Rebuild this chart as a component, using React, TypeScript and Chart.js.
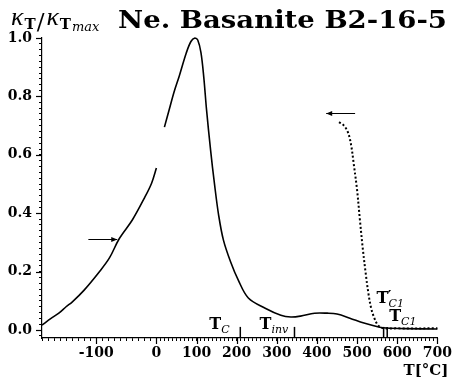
import React, { useEffect, useRef } from "react";
import { Chart, registerables } from "chart.js";

Chart.register(...registerables);

// ---------- data (T in °C, kappa normalised) ----------
const lowT = [-190, -175, -162, -150, -140, -120, -95, -78, -62, -40, -20, -8, 0];
const lowK = [0.017, 0.04, 0.058, 0.08, 0.096, 0.137, 0.199, 0.247, 0.312, 0.377, 0.452, 0.503, 0.555];

const heatT = [20, 32, 44, 57, 74, 86, 96, 103, 111, 118, 125, 135, 145, 155, 167, 185, 204, 229, 271, 310, 335, 359, 394, 426, 450, 482, 517, 556, 573, 620, 700];
const heatK = [0.695, 0.755, 0.815, 0.87, 0.947, 0.988, 1.0, 0.993, 0.95, 0.866, 0.753, 0.616, 0.497, 0.394, 0.308, 0.233, 0.171, 0.11, 0.075, 0.051, 0.045, 0.048, 0.058, 0.058, 0.055, 0.041, 0.024, 0.01, 0.007, 0.005, 0.004];

const coolT = [455, 466, 477, 485, 492, 500, 507, 514, 521, 528, 535, 543, 552, 564, 597, 700];
const coolK = [0.712, 0.702, 0.678, 0.634, 0.565, 0.479, 0.377, 0.281, 0.199, 0.127, 0.075, 0.041, 0.017, 0.007, 0.006, 0.006];

const xMajorTicks = [-100, 0, 100, 200, 300, 400, 500, 600, 700];
const xMin = -190;
const xMax = 700;
const xMinorStep = 10;
const yMajorTicks = [0, 0.2, 0.4, 0.6, 0.8, 1.0];
const yMin = -0.027;
const yMax = 1.0;
const yMinorStep = 0.02;

const titleText = "Ne. Basanite B2-16-5";
const axisTitle = "T[°C]";

// characteristic temperatures
const markTC = 209;
const markTinv = 344;
const markTC1 = [566, 575];
const heatArrow = { from: -113, to: -65, k: 0.312 };
const coolArrow = { from: 495, to: 423, k: 0.743 };

// negative temperatures are drawn on a stretched scale
const NEG_STRETCH = 1.5;
const toU = (t: number) => (t < 0 ? t * NEG_STRETCH : t);
const fromU = (u: number) => (u < 0 ? u / NEG_STRETCH : u);

const SERIF = "'DejaVu Serif', serif";
const GREEK = "'Liberation Serif', serif";

function buildXTicks() {
  const out: { value: number }[] = [];
  for (let t = xMin; t <= xMax + 1e-9; t += xMinorStep) out.push({ value: toU(t) });
  return out;
}
function buildYTicks() {
  const out: { value: number }[] = [];
  const n0 = Math.ceil(yMin / yMinorStep - 1e-9);
  const n1 = Math.floor(yMax / yMinorStep + 1e-9);
  for (let i = n0; i <= n1; i++) out.push({ value: Math.round(i * yMinorStep * 1000) / 1000 });
  return out;
}

const annotPlugin = {
  id: "annot",
  afterDraw(chart: any) {
    const { ctx, chartArea } = chart;
    const xs = chart.scales.x;
    const ys = chart.scales.y;
    const X = (t: number) => xs.getPixelForValue(toU(t));
    const Y = (k: number) => ys.getPixelForValue(k);
    const line = (x1: number, y1: number, x2: number, y2: number) => {
      ctx.beginPath();
      ctx.moveTo(x1, y1);
      ctx.lineTo(x2, y2);
      ctx.stroke();
    };
    ctx.save();
    ctx.strokeStyle = "#000";
    ctx.fillStyle = "#000";

    // longer major ticks
    ctx.lineWidth = 1.2;
    xMajorTicks.forEach((t) => {
      const px = Math.round(X(t)) + 0.5;
      line(px, chartArea.bottom, px, chartArea.bottom + 6);
    });
    yMajorTicks.forEach((k) => {
      const py = Math.round(Y(k)) + 0.5;
      line(chartArea.left - 6, py, chartArea.left, py);
    });

    // marker ticks
    ctx.lineWidth = 1.5;
    [markTC, markTinv, ...markTC1].forEach((t) => {
      const px = X(t);
      line(px, Y(0.011), px, chartArea.bottom);
    });

    // arrows
    ctx.lineWidth = 1;
    const arrow = (a: { from: number; to: number; k: number }) => {
      const x1 = X(a.from);
      const x2 = X(a.to);
      const py = Math.round(Y(a.k)) + 0.5;
      line(x1, py, x2, py);
      const dir = Math.sign(x2 - x1);
      ctx.beginPath();
      ctx.moveTo(x2, py);
      ctx.lineTo(x2 - dir * 6, py - 2.5);
      ctx.lineTo(x2 - dir * 6, py + 2.5);
      ctx.closePath();
      ctx.fill();
    };
    arrow(heatArrow);
    arrow(coolArrow);

    // labels with subscripts
    ctx.textBaseline = "alphabetic";
    ctx.textAlign = "left";
    const sub = (main: string, subTxt: string, x: number, y: number, prime = false) => {
      ctx.font = `bold 16px ${SERIF}`;
      ctx.fillText(main, x, y);
      const w = ctx.measureText(main).width;
      if (prime) {
        ctx.font = `bold 15px ${SERIF}`;
        ctx.fillText("′", x + w - 1, y - 2);
      }
      ctx.font = `italic 11px ${SERIF}`;
      ctx.fillText(subTxt, x + w, y + 4);
    };
    const base = Y(0.004);
    sub("T", "C", X(markTC) - 31, base);
    sub("T", "inv", X(markTinv) - 35, base);
    sub("T", "C1", X(markTC1[0]) - 7, Y(0.092), true);
    sub("T", "C1", X(markTC1[1]) + 2, Y(0.03));

    // x axis title
    ctx.font = `bold 15px ${SERIF}`;
    ctx.textAlign = "right";
    ctx.fillText(axisTitle, chartArea.right + 11, chartArea.bottom + 37);

    // y label  kappa_T / kappa_Tmax
    ctx.textAlign = "left";
    let cx = 11;
    const by = 25;
    ctx.font = `italic 26px ${GREEK}`;
    ctx.fillText("κ", cx, by);
    cx += ctx.measureText("κ").width + 1;
    ctx.font = `bold 15px ${SERIF}`;
    ctx.fillText("T", cx, by + 4);
    cx += ctx.measureText("T").width + 1;
    ctx.font = `23px ${SERIF}`;
    ctx.fillText("/", cx, by + 4);
    cx += ctx.measureText("/").width + 2;
    ctx.font = `italic 26px ${GREEK}`;
    ctx.fillText("κ", cx, by);
    cx += ctx.measureText("κ").width + 1;
    ctx.font = `bold 15px ${SERIF}`;
    ctx.fillText("T", cx, by + 4);
    cx += ctx.measureText("T").width + 1;
    ctx.font = `italic 13px ${SERIF}`;
    ctx.fillText("max", cx, by + 6);

    // title, stretched to the extended bold width
    ctx.font = `bold 24px ${SERIF}`;
    const tw = ctx.measureText(titleText).width;
    const left = 118;
    const right = 447;
    ctx.save();
    ctx.translate(left, 28);
    ctx.scale((right - left) / tw, 1);
    ctx.fillText(titleText, 0, 0);
    ctx.restore();

    ctx.restore();
  },
};

export default function App() {
  const ref = useRef<HTMLCanvasElement | null>(null);
  useEffect(() => {
    if (!ref.current) return;
    const mk = (T: number[], K: number[]) => T.map((t, i) => ({ x: toU(t), y: K[i] }));
    const tickFont = { family: SERIF, weight: "bold" as const, size: 14 };
    const common = { borderColor: "#000", pointRadius: 0, tension: 0.35, clip: 6 };
    const chart = new Chart(ref.current, {
      type: "line",
      data: {
        datasets: [
          { ...common, data: mk(lowT, lowK), borderWidth: 1.6 },
          { ...common, data: mk(heatT, heatK), borderWidth: 1.6 },
          { ...common, data: mk(coolT, coolK), borderWidth: 2, borderDash: [2, 2.2] },
        ],
      },
      options: {
        animation: false,
        responsive: false,
        maintainAspectRatio: false,
        events: [],
        layout: { padding: { top: 38, right: 14, left: 0, bottom: 0 } },
        plugins: { legend: { display: false }, tooltip: { enabled: false }, title: { display: false } },
        scales: {
          x: {
            type: "linear",
            min: toU(xMin),
            max: xMax,
            afterBuildTicks: (s: any) => {
              s.ticks = buildXTicks();
            },
            afterFit: (s: any) => {
              s.height = 48;
            },
            grid: { drawOnChartArea: false, tickLength: 3, tickColor: "#000", tickWidth: 1 },
            border: { color: "#000", width: 1.2 },
            ticks: {
              autoSkip: false,
              maxRotation: 0,
              minRotation: 0,
              padding: 4,
              color: "#000",
              font: tickFont,
              callback: (v: any) => {
                const t = Math.round(fromU(Number(v)));
                return xMajorTicks.includes(t) ? String(t) : "";
              },
            },
          },
          y: {
            type: "linear",
            min: yMin,
            max: yMax,
            afterBuildTicks: (s: any) => {
              s.ticks = buildYTicks();
            },
            afterFit: (s: any) => {
              s.width = 42;
            },
            grid: { drawOnChartArea: false, tickLength: 3, tickColor: "#000", tickWidth: 1 },
            border: { color: "#000", width: 1.2 },
            ticks: {
              autoSkip: false,
              padding: 7,
              color: "#000",
              font: tickFont,
              callback: (v: any) => {
                const k = Number(v);
                return yMajorTicks.some((m) => Math.abs(m - k) < 1e-6) ? k.toFixed(1) : "";
              },
            },
          },
        },
      },
      plugins: [annotPlugin],
    } as any);
    return () => chart.destroy();
  }, []);
  return (
    <div style={{ position: "absolute", left: 0, top: 0, width: 456, height: 386, background: "#fff" }}>
      <canvas ref={ref} width={456} height={386} style={{ display: "block" }} />
    </div>
  );
}
